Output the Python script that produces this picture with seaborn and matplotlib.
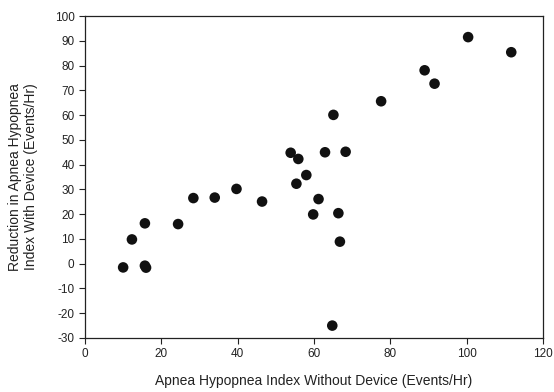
import numpy as np
import pandas as pd
import matplotlib
matplotlib.use("Agg")
import matplotlib.pyplot as plt
import seaborn as sns

# AHI without device vs. reduction with device
ahi_without = [10.0, 12.3, 15.7, 15.7, 16.0, 24.4, 28.4, 34.0, 39.7, 46.4,
               53.9, 55.9, 55.4, 58.0, 59.8, 61.2, 62.9, 65.1, 66.4, 66.8,
               64.8, 68.3, 77.6, 89.0, 91.6, 100.4, 111.7]
ahi_reduction = [-1.5, 9.8, 16.3, -0.8, -1.6, 16.0, 26.5, 26.7, 30.2, 25.1,
                 44.8, 42.3, 32.3, 35.8, 19.9, 26.1, 45.0, 60.1, 20.4, 8.9,
                 -25.0, 45.2, 65.6, 78.1, 72.7, 91.5, 85.4]

x_ticks = [0, 20, 40, 60, 80, 100, 120]
y_ticks = [-30, -20, -10, 0, 10, 20, 30, 40, 50, 60, 70, 80, 90, 100]

df = pd.DataFrame({"without": ahi_without, "reduction": ahi_reduction})

sns.set_style("ticks")
plt.rcParams["font.family"] = ["Liberation Sans", "DejaVu Sans"]
plt.rcParams["axes.unicode_minus"] = False

fig = plt.figure(figsize=(5.54, 3.92), dpi=100)
ax = fig.add_axes([0.1534, 0.1378, 0.8266, 0.8212])

sns.scatterplot(data=df, x="without", y="reduction", ax=ax,
                color="#111111", s=58, edgecolor="none", legend=False)

ax.set_xlim(0, 120)
ax.set_ylim(-30, 100)
ax.set_xticks(x_ticks)
ax.set_yticks(y_ticks)
ax.tick_params(axis="both", direction="out", length=4, width=0.8,
               labelsize=8.5, colors="#222222")

for side in ["left", "bottom", "top", "right"]:
    ax.spines[side].set_visible(True)
    ax.spines[side].set_linewidth(0.9)
    ax.spines[side].set_color("#222222")

ax.set_xlabel("Apnea Hypopnea Index Without Device (Events/Hr)",
              fontsize=10, color="#222222", labelpad=10)
ax.set_ylabel("Reduction in Apnea Hypopnea\nIndex With Device (Events/Hr)",
              fontsize=10, color="#222222", labelpad=12)

fig.savefig("out.png", dpi=100)
